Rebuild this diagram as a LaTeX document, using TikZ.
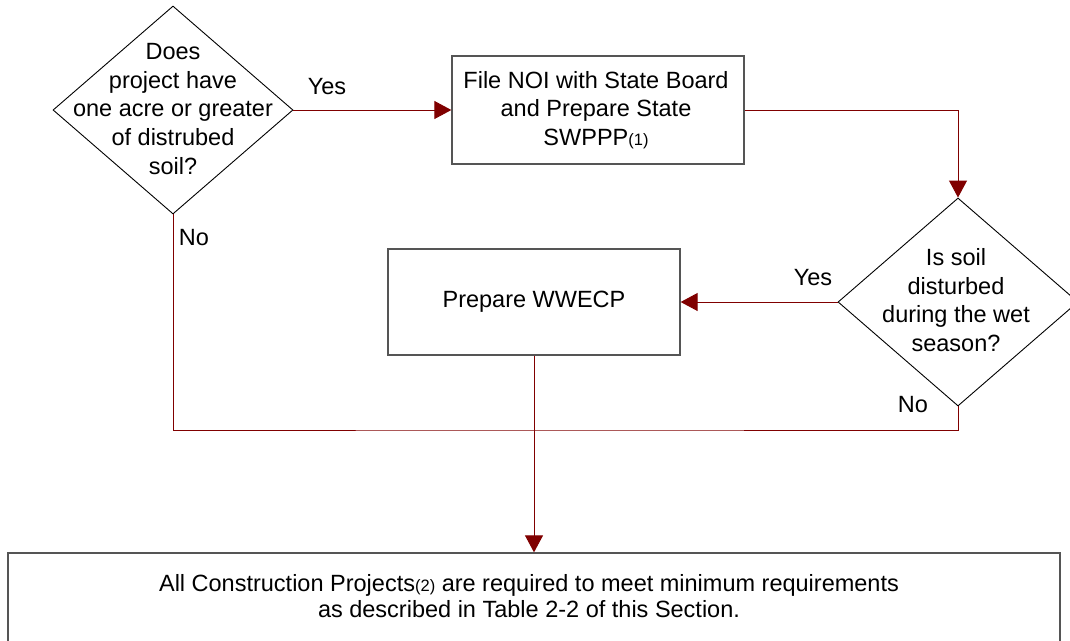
\documentclass[tikz,border=0pt]{standalone}
\usepackage{fontspec}
\setmainfont{Liberation Sans}
\usetikzlibrary{arrows.meta,shapes.geometric}
\definecolor{flowred}{RGB}{128,0,0}
\definecolor{boxgray}{RGB}{85,85,85}
\newcommand{\notemark}[1]{{\fontsize{16.5}{18}\selectfont(#1)}}

\begin{document}
\begin{tikzpicture}[x=1pt,y=-1pt,
  txt/.style={align=center,font=\fontsize{23.5}{28.6}\selectfont,inner sep=0pt},
  decide/.style={diamond,draw=black,line width=.9pt,inner sep=0pt,minimum width=240pt,minimum height=208pt},
  stepbox/.style={draw=boxgray,line width=1.3pt,inner sep=0pt},
  flow/.style={draw=flowred,line width=1pt},
  arr/.style={flow,-{Triangle[length=17pt,width=18pt]}}]
 \path[use as bounding box] (0,0) rectangle (1070,640);
 % decisions
 \node[decide] (q1) at (173,110) {};
 \node[txt] (q1txt) at (173,109) {Does\\project have\\one acre or greater\\of distrubed\\soil?};
 \node[decide] (q2) at (958,302) {};
 \node[txt] (q2txt) at (956,300) {Is soil\\disturbed\\during the wet\\season?};
 % actions
 \node[stepbox,minimum width=292pt,minimum height=108pt] (noi) at (598,110) {};
 \node[txt] (noitxt) at (596,110) {File NOI with State Board\\and Prepare State\\SWPPP\notemark{1}};
 \node[stepbox,minimum width=292pt,minimum height=106pt] (wwecp) at (534,302) {};
 \node[txt] (wwecptxt) at (534,302) {Prepare WWECP};
 \node[stepbox,minimum width=1052pt,minimum height=130pt] (req) at (534,618) {};
 \node[txt,font=\fontsize{23.5}{26}\selectfont] (reqtxt) at (529,596) {All Construction Projects\notemark{2} are required to meet minimum requirements\\as described in Table 2-2 of this Section.};
 % labels
 \node[txt] (yes1) at (327,87) {Yes};
 \node[txt] (yes2) at (813,278) {Yes};
 \node[txt] (no1) at (194,238) {No};
 \node[txt] (no2) at (913,405) {No};
 % connectors
 \coordinate (nojoin) at (534,430);
 \draw[arr] (q1.east) -- (noi.west);
 \draw[arr] (noi.east) -| (q2.north);
 \draw[arr] (q2.west) -- (wwecp.east);
 \draw[flow] (q1.south) |- (nojoin) -| (q2.south);
 \draw[arr] (wwecp.south) -- (req.north);
\end{tikzpicture}
\end{document}
